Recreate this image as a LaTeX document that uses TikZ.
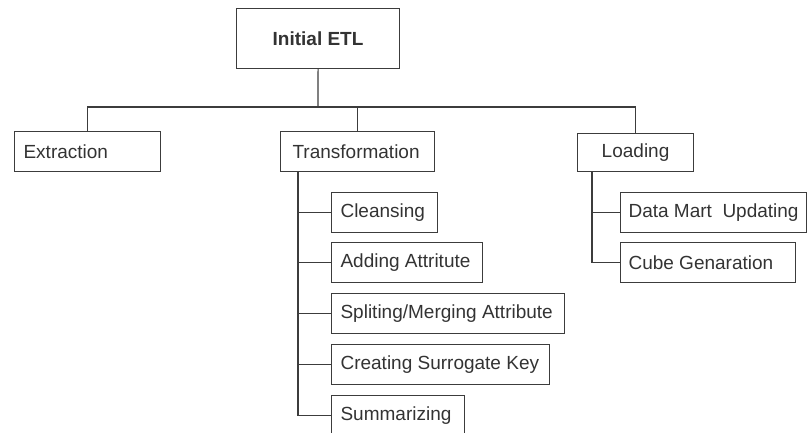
\documentclass[tikz,border=0pt]{standalone}
\usepackage{fontspec}
\setmainfont{Liberation Sans}
\definecolor{linec}{HTML}{3C3C3C}
\definecolor{textc}{HTML}{333333}
\newcommand\lbtext[2]{\makebox[#1pt][l]{#2}}
\begin{document}
\begin{tikzpicture}[x=1pt,y=-1pt,
  box/.style={draw=linec, line width=1.1pt, anchor=north west, inner xsep=#1, inner ysep=0pt,
    text=textc, font=\fontsize{19}{22}\selectfont, minimum height=40pt},
  box/.default=9pt,
  conn/.style={draw=linec, line width=1.1pt}]
\useasboundingbox (0,0) rectangle (809,432);
% top
\node[box, minimum width=163pt, minimum height=60pt, font=\fontsize{19}{22}\selectfont\bfseries] (init) at (236,8) {Initial ETL};
% level 1
\node[box] (ext) at (14,131) {\lbtext{128}{Extraction}};
\node[box=12pt] (trans) at (280,131) {\lbtext{130}{Transformation}};
\node[box, minimum width=116pt, minimum height=38pt] (load) at (577,133) {Loading};
% transformation children
\node[box] (clean) at (331,192) {\lbtext{88}{Cleansing}};
\node[box] (add) at (331,242) {\lbtext{133}{Adding Attritute}};
\node[box] (split) at (331,293) {\lbtext{215}{Spliting/Merging Attribute}};
\node[box] (create) at (331,344) {\lbtext{200}{Creating Surrogate Key}};
\node[box] (summ) at (331,395) {\lbtext{115}{Summarizing}};
% loading children
\node[box=8pt] (dm) at (620,192) {\lbtext{170}{Data Mart\ \ Updating}};
\node[box=8pt] (cube) at (620,242) {\lbtext{159}{Cube Genaration}};
% connectors
\coordinate (bus) at (318,107);
\coordinate (ttop) at (298,171);
\coordinate (ltop) at (592,171);
\draw[conn] (init.south) -- (bus);
\draw[conn] (ext.north) |- (bus);
\draw[conn] (trans.north) |- (bus);
\draw[conn] (load.north) |- (bus);
\draw[conn] (ttop) |- (clean.west);
\draw[conn] (ttop) |- (add.west);
\draw[conn] (ttop) |- (split.west);
\draw[conn] (ttop) |- (create.west);
\draw[conn] (ttop) |- (summ.west);
\draw[conn] (ltop) |- (dm.west);
\draw[conn] (ltop) |- (cube.west);
\end{tikzpicture}
\end{document}
